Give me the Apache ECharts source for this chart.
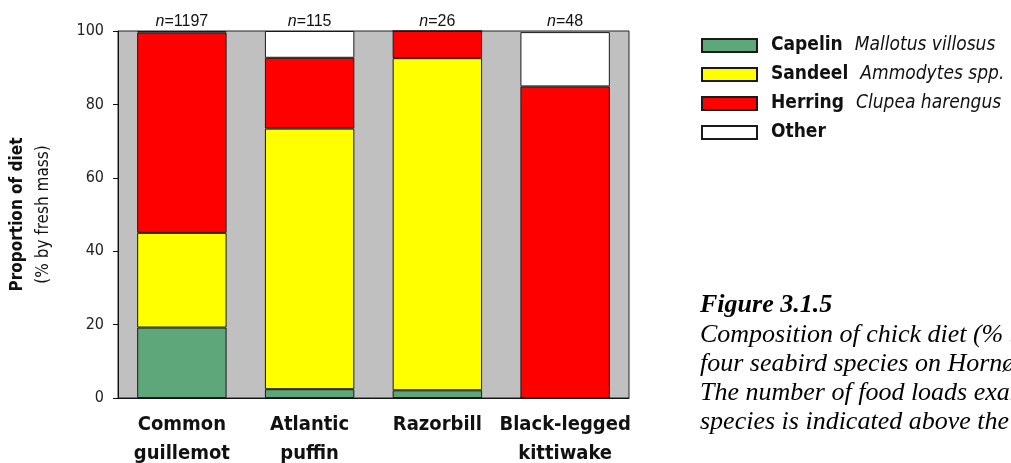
<!DOCTYPE html>
<html>
<head>
<meta charset="utf-8">
<script src="https://cdn.jsdelivr.net/npm/echarts@6/dist/echarts.min.js"></script>
<style>
html,body{margin:0;padding:0;background:#fff;}
#chart{width:1011px;height:463px;}
</style>
</head>
<body>
<div id="chart"></div>
<script>
const categories = ['Common\nguillemot', 'Atlantic\npuffin', 'Razorbill', 'Black-legged\nkittiwake'];
const sampleSizes = ['1197', '115', '26', '48'];
const capelin = [19.2, 2.4, 2.1, 0];
const sandeel = [25.8, 71.0, 90.5, 0];
const herring = [54.6, 19.3, 7.4, 84.9];
const other = [0.4, 7.3, 0, 14.8];
const yTicks = [0, 20, 40, 60, 80, 100];
const seriesNames = ['Capelin', 'Sandeel', 'Herring', 'Other'];
const latinNames = ['Mallotus villosus', 'Ammodytes spp.', 'Clupea harengus', ''];
const captionTitle = 'Figure 3.1.5';
const captionLines = [
  'Composition of chick diet (% by fresh mass) of',
  'four seabird species on Hornøya in the season.',
  'The number of food loads examined for each',
  'species is indicated above the bars.'
];

const NARROW = "'Liberation Sans Narrow', 'Arial Narrow', 'DejaVu Sans Condensed', sans-serif";
const SANS = "'Liberation Sans', Arial, sans-serif";
const SERIF = "'Liberation Serif', 'Times New Roman', serif";

const colors = ['#5ea77a', '#ffff00', '#ff0000', '#ffffff'];
const values = [capelin, sandeel, herring, other];

const chart = echarts.init(document.getElementById('chart'), null, {renderer: 'canvas'});

const series = seriesNames.map((name, i) => ({
  name: name,
  type: 'bar',
  stack: 'diet',
  barWidth: '70%',
  data: values[i],
  itemStyle: {color: colors[i], borderColor: '#1a1a1a', borderWidth: 1},
  emphasis: {disabled: true},
  animation: false
}));

const graphics = [{
  type: 'text',
  left: 700,
  top: 292,
  style: {text: captionTitle, font: "italic bold 26px " + SERIF, fill: '#000'}
}].concat(captionLines.map((t, i) => ({
  type: 'text',
  left: 700,
  top: 322 + i * 29,
  style: {text: t, font: "italic 26px " + SERIF, fill: '#000'}
})));

chart.setOption({
  backgroundColor: '#ffffff',
  animation: false,
  grid: {
    left: 118, right: 382, top: 31, bottom: 65,
    outerBoundsMode: 'none', containLabel: false,
    show: true, backgroundColor: '#c0c0c0', borderColor: '#222', borderWidth: 1
  },
  legend: {
    left: 701, top: 36, orient: 'vertical', padding: 0, itemGap: 10,
    itemWidth: 55, itemHeight: 13, icon: 'rect',
    selectedMode: false,
    data: seriesNames,
    formatter: function (name) {
      const i = seriesNames.indexOf(name);
      return latinNames[i] ? '{b|' + name + '}{i|' + latinNames[i] + '}' : '{b|' + name + '}';
    },
    textStyle: {
      rich: {
        b: {fontFamily: NARROW, fontWeight: 'bold', fontSize: 19, color: '#111', padding: [0, 0, 0, 9]},
        i: {fontFamily: NARROW, fontStyle: 'italic', fontSize: 19, color: '#111', padding: [0, 0, 0, 12]}
      }
    }
  },
  xAxis: [{
    type: 'category',
    data: categories,
    position: 'bottom',
    axisLine: {lineStyle: {color: '#111', width: 1}},
    axisTick: {alignWithLabel: true, length: 5, lineStyle: {color: '#111'}},
    axisLabel: {fontFamily: NARROW, fontWeight: 'bold', fontSize: 20, lineHeight: 29, color: '#111', margin: 12, interval: 0},
    splitLine: {show: false}
  }, {
    type: 'category',
    data: sampleSizes,
    position: 'top',
    axisLine: {show: false},
    axisTick: {show: false},
    axisLabel: {
      margin: 1, interval: 0,
      formatter: function (v) { return '{i|n}{r|=' + v + '}'; },
      rich: {
        i: {fontFamily: SANS, fontStyle: 'italic', fontSize: 16, color: '#111'},
        r: {fontFamily: SANS, fontSize: 16, color: '#111'}
      }
    }
  }],
  yAxis: {
    type: 'value',
    min: yTicks[0], max: yTicks[yTicks.length - 1], interval: yTicks[1] - yTicks[0],
    axisLine: {show: true, lineStyle: {color: '#111', width: 1}},
    axisTick: {show: true, length: 5, lineStyle: {color: '#111'}},
    axisLabel: {fontFamily: NARROW, fontSize: 16, color: '#222', margin: 14},
    splitLine: {show: false},
    name: '{a|Proportion of diet}\n{b|(% by fresh mass)}',
    nameLocation: 'middle',
    nameRotate: 90,
    nameGap: 61,
    nameTextStyle: {
      rich: {
        a: {fontFamily: NARROW, fontWeight: 'bold', fontSize: 17, color: '#111', lineHeight: 26},
        b: {fontFamily: NARROW, fontSize: 17, color: '#111', lineHeight: 26}
      }
    }
  },
  series: series,
  graphic: graphics
});
</script>
</body>
</html>
